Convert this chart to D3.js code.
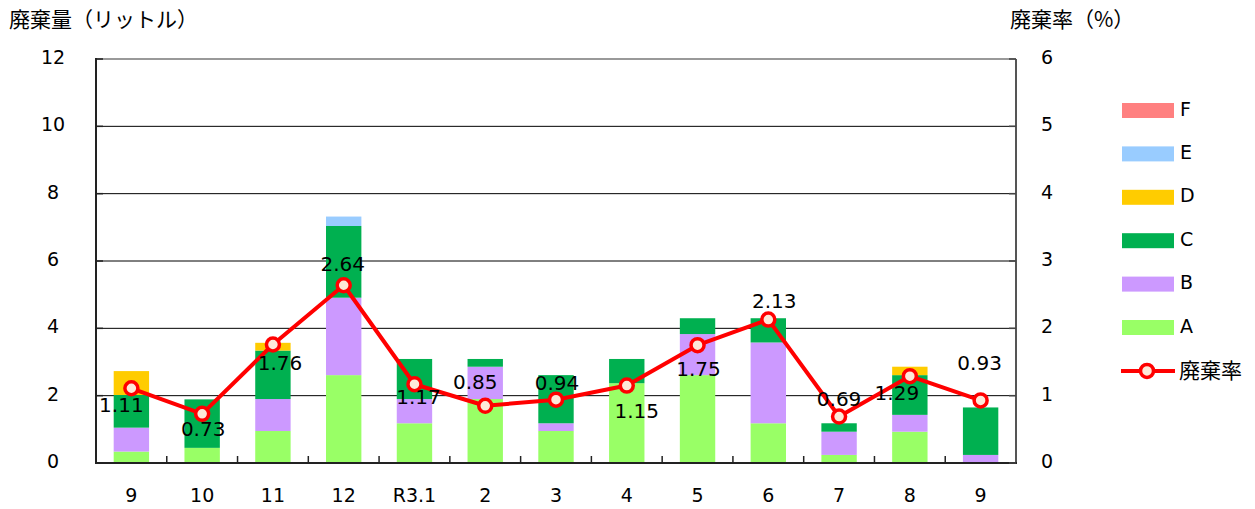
<!DOCTYPE html>
<html><head><meta charset="utf-8">
<script src="https://cdn.jsdelivr.net/npm/d3@7"></script>
<style>
body{margin:0;background:#fff;}
text{font-family:"DejaVu Sans",Verdana,sans-serif;fill:#000;}
.jp{font-family:"Noto Sans CJK JP","Noto Sans",sans-serif;}
</style></head>
<body><svg id="c" width="1255" height="509"></svg>
<script>
const categories = ["9","10","11","12","R3.1","2","3","4","5","6","7","8","9"];
const seriesNames = ["A","B","C","D","E","F"];
const A = [0.34,0.45,0.95,2.61,1.18,1.90,0.95,2.37,2.61,1.18,0.24,0.93,0.00];
const B = [0.71,0.00,0.95,2.30,0.72,0.96,0.23,0.00,1.22,2.40,0.69,0.50,0.24];
const C = [0.97,1.44,1.44,2.13,1.19,0.23,1.43,0.72,0.47,0.72,0.25,1.18,1.41];
const D = [0.71,0.00,0.23,0.00,0.00,0.00,0.00,0.00,0.00,0.00,0.00,0.25,0.00];
const E = [0.00,0.00,0.00,0.28,0.00,0.00,0.00,0.00,0.00,0.00,0.00,0.00,0.00];
const F = [0,0,0,0,0,0,0,0,0,0,0,0,0];
const rate = [1.11,0.73,1.76,2.64,1.17,0.85,0.94,1.15,1.75,2.13,0.69,1.29,0.93];
const leftTicks = [0,2,4,6,8,10,12];
const rightTicks = [0,1,2,3,4,5,6];
const leftTitle = "廃棄量（リットル）";
const rightTitle = "廃棄率（%）";
const rateName = "廃棄率";

// styling
const colors = {A:"#99FF66",B:"#CC99FF",C:"#00B050",D:"#FFCC00",E:"#99CCFF",F:"#FF8080"};
const labelOffsets = [[-10,17],[1,15],[7,19],[-1,-21],[4,13],[-10,-24],[1,-17],[10,25],[1,24],[6,-19],[0,-18],[-13,17],[-1,-37]];

const svg = d3.select("#c");
const L=96, R=1016, T=59, Bt=463;
const x = d3.scaleBand().domain(d3.range(categories.length)).range([L,R]).paddingInner(0.5).paddingOuter(0.25);
const y = d3.scaleLinear().domain([0,12]).range([Bt,T]);
const y2 = d3.scaleLinear().domain([0,6]).range([Bt,T]);

const seriesData = {A,B,C,D,E,F};
const table = categories.map((c,i)=>{const o={i}; seriesNames.forEach(s=>o[s]=seriesData[s][i]); return o;});
const stack = d3.stack().keys(seriesNames)(table);

// gridlines
svg.append("g").selectAll("line").data(leftTicks.filter(t=>t>0&&t<12)).join("line")
  .attr("x1",L).attr("x2",R).attr("y1",d=>y(d)).attr("y2",d=>y(d))
  .attr("stroke","#000").attr("stroke-width",1);

// bars
svg.append("g").selectAll("g").data(stack).join("g").attr("fill",d=>colors[d.key])
  .selectAll("rect").data(d=>d).join("rect")
  .attr("x",d=>x(d.data.i)).attr("width",x.bandwidth())
  .attr("y",d=>y(d[1])).attr("height",d=>Math.max(0,y(d[0])-y(d[1])));

// frame
svg.append("line").attr("x1",L).attr("x2",R).attr("y1",T).attr("y2",T).attr("stroke","#999").attr("stroke-width",2);
svg.append("line").attr("x1",R).attr("x2",R).attr("y1",T).attr("y2",Bt).attr("stroke","#555").attr("stroke-width",2);
svg.append("line").attr("x1",L).attr("x2",L).attr("y1",T-1).attr("y2",Bt+1).attr("stroke","#222").attr("stroke-width",2);
svg.append("line").attr("x1",L-1).attr("x2",R+1).attr("y1",Bt).attr("y2",Bt).attr("stroke","#222").attr("stroke-width",2);

// axis ticks
svg.append("g").selectAll("line").data(d3.range(1,categories.length)).join("line")
  .attr("x1",d=>L+d*(R-L)/categories.length).attr("x2",d=>L+d*(R-L)/categories.length)
  .attr("y1",Bt).attr("y2",Bt-7).attr("stroke","#222").attr("stroke-width",1.5);
svg.append("g").selectAll("line").data(leftTicks).join("line")
  .attr("x1",L).attr("x2",L+7).attr("y1",d=>y(d)).attr("y2",d=>y(d)).attr("stroke","#222").attr("stroke-width",1.5);
svg.append("g").selectAll("line").data(rightTicks).join("line")
  .attr("x1",R).attr("x2",R-7).attr("y1",d=>y2(d)).attr("y2",d=>y2(d)).attr("stroke","#444").attr("stroke-width",1.5);

// tick labels
svg.append("g").selectAll("text").data(leftTicks).join("text")
  .attr("x",53).attr("y",d=>y(d)-2).attr("text-anchor","middle").attr("dominant-baseline","central")
  .attr("font-size",19).text(d=>d);
svg.append("g").selectAll("text").data(rightTicks).join("text")
  .attr("x",1047).attr("y",d=>y2(d)-2).attr("text-anchor","middle").attr("dominant-baseline","central")
  .attr("font-size",19).text(d=>d);
svg.append("g").selectAll("text").data(categories).join("text")
  .attr("x",(d,i)=>x(i)+x.bandwidth()/2).attr("y",495).attr("text-anchor","middle").attr("dominant-baseline","central")
  .attr("font-size",19).text(d=>d);

// axis titles
svg.append("text").attr("class","jp").attr("x",9).attr("y",18).attr("dominant-baseline","central").attr("font-size",21).text(leftTitle);
svg.append("text").attr("class","jp").attr("x",1010).attr("y",18).attr("dominant-baseline","central").attr("font-size",21).text(rightTitle);

// line
const cx = i=>x(i)+x.bandwidth()/2;
svg.append("path").datum(rate).attr("fill","none").attr("stroke","#FF0000").attr("stroke-width",4)
  .attr("stroke-linejoin","round")
  .attr("d",d3.line().x((d,i)=>cx(i)).y(d=>y2(d)));
svg.append("g").selectAll("circle").data(rate).join("circle")
  .attr("cx",(d,i)=>cx(i)).attr("cy",d=>y2(d)).attr("r",6.5)
  .attr("fill","#FDE9D9").attr("stroke","#FF0000").attr("stroke-width",3.5);
svg.append("g").selectAll("text").data(rate).join("text")
  .attr("x",(d,i)=>cx(i)+labelOffsets[i][0]).attr("y",(d,i)=>y2(d)+labelOffsets[i][1])
  .attr("text-anchor","middle").attr("dominant-baseline","central").attr("font-size",20)
  .text(d=>d3.format(".2f")(d));

// legend
const legendOrder = seriesNames.slice().reverse();
const lg = svg.append("g");
legendOrder.forEach((s,k)=>{
  const yy = 110.5 + k*43.4;
  lg.append("rect").attr("x",1122).attr("y",yy-7.5).attr("width",52).attr("height",15).attr("fill",colors[s]);
  lg.append("text").attr("x",1180).attr("y",yy-2).attr("dominant-baseline","central").attr("font-size",19).text(s);
});
const ly = 110.5 + 6*43.4;
lg.append("line").attr("x1",1121).attr("x2",1175).attr("y1",ly).attr("y2",ly).attr("stroke","#FF0000").attr("stroke-width",4);
lg.append("circle").attr("cx",1147).attr("cy",ly).attr("r",6.5).attr("fill","#FDE9D9").attr("stroke","#FF0000").attr("stroke-width",3.5);
lg.append("text").attr("class","jp").attr("x",1179).attr("y",ly-2).attr("dominant-baseline","central").attr("font-size",21).text(rateName);
</script></body></html>
